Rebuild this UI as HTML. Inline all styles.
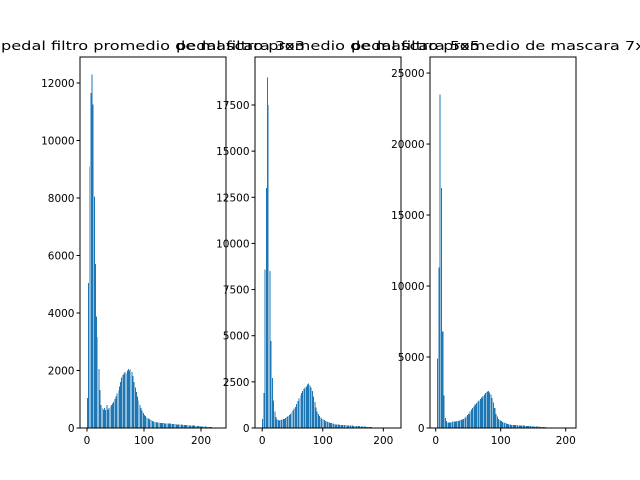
<!DOCTYPE html>
<html><head><meta charset="utf-8"><style>
body{margin:0;background:#fff}
svg{display:block;font-family:"DejaVu Sans","Liberation Sans",sans-serif}
</style></head><body>
<svg id="fig" width="640" height="480" viewBox="0 0 640 480" xmlns="http://www.w3.org/2000/svg"></svg>
<script>
const titles = ["pedal filtro promedio de mascara 3x3","pedal filtro promedio de mascara 5x5","pedal filtro promedio de mascara 7x7"];
const xTicks = [0,100,200];
const yTicksA = [0,2000,4000,6000,8000,10000,12000];
const yTicksB = [0,2500,5000,7500,10000,12500,15000,17500];
const yTicksC = [0,5000,10000,15000,20000,25000];
const seriesA = [1050,5040,9090,11650,12300,11250,8050,5700,3870,3170,2050,1320,800,
700,650,700,620,800,650,700,750,
800,850,900,1000,1100,1200,1300,1450,1600,1750,
1850,1900,1950,1900,2000,2050,2000,2050,1950,1800,
1600,1400,1250,1100,950,800,700,600,520,
460,410,370,340,310,290,270,250,230,215,
200,195,190,185,180,175,170,170,165,160,160,155,150,150,145,140,140,135,130,130,125,120,120,115,110,110,105,100,100,95,90,90,85,80,80,75,70,70,65,60,60,55,50,50,45,40,40,35,30,30,25];
const seriesB = [500,1900,8600,13000,19000,17500,8500,4700,2700,1500,900,600,450,
420,400,420,450,480,500,550,600,
650,700,750,850,950,1050,1150,1300,1450,1600,
1750,1900,2000,2100,2200,2250,2350,2400,2300,2200,
2000,1700,1400,1100,900,750,650,560,500,
460,420,380,350,320,300,280,260,240,220,
200,195,190,180,175,170,165,160,155,150,145,140,135,130,125,120,115,110,105,100,95,90,85,80,75,70,65,60,55,50,45,40,35,30,28,26,24,22,20,20,20];
const seriesC = [0,4900,11300,23500,16900,6800,2300,
700,500,400,380,400,420,450,
450,470,480,500,520,560,600,
650,700,800,900,1000,1150,1300,1400,1500,1650,
1750,1850,1950,2050,2150,2250,2350,2450,2550,2600,
2500,2350,2100,1800,1400,1000,800,
650,550,480,420,380,340,310,280,260,240,
220,215,210,200,195,190,180,175,170,165,160,150,145,140,130,125,120,110,105,100,95,90,80,75,70,60,55,50,45,40,35,30,25,20,20,20];
const datasets = [seriesA, seriesB, seriesC];
const yTickSets = [yTicksA, yTicksB, yTicksC];
const yMaxes = [12904, 20100, 26130];
const xMins = [-12.3, -11.9, -8.8];
const xMaxes = [243.9, 229.2, 215.8];
const binStep = 2;

const NS = "http://www.w3.org/2000/svg";
const svg = document.getElementById("fig");
function mk(tag, attrs, parent){const e=document.createElementNS(NS,tag);for(const k in attrs)e.setAttribute(k,attrs[k]);(parent||svg).appendChild(e);return e;}
const lefts=[80,255,430], W=146, axTop=57, axBottom=428;
for(let p=0;p<3;p++){
  const g=mk("g",{});
  
  
  const L=lefts[p];
  const xs=v=>L+(v-xMins[p])/(xMaxes[p]-xMins[p])*W;
  const ys=v=>axBottom-v/yMaxes[p]*(axBottom-axTop);
  const bars=mk("g",{fill:"#1f77b4","shape-rendering":"crispEdges"},g);
  
  
  datasets[p].forEach((v,i)=>{
    const x0=i*binStep, x1=x0+binStep*0.8;
    const r=mk("rect",{x:xs(x0),y:ys(v),width:xs(x1)-xs(x0),height:axBottom-ys(v)},bars);
    
    
  });
  const frame=mk("rect",{x:L,y:axTop,width:W,height:axBottom-axTop,fill:"none",stroke:"#000","stroke-width":1},g);
  
  
  xTicks.forEach(t=>{
    const x=xs(t);
    mk("line",{x1:x,x2:x,y1:axBottom,y2:axBottom+3.5,stroke:"#000"},g);
    const tx=mk("text",{x:x,y:axBottom+16,"font-size":"10.5","text-anchor":"middle"},g);
    tx.textContent=t;
    
    
  });
  yTickSets[p].forEach(t=>{
    const y=ys(t);
    mk("line",{x1:L,x2:L-3.5,y1:y,y2:y,stroke:"#000"},g);
    const tx=mk("text",{x:L-5.5,y:y+4,"font-size":"10.5","text-anchor":"end"},g);
    tx.textContent=t;
    
    
  });
  const ti=mk("text",{x:L+W/2,y:50,"font-size":"12","text-anchor":"middle",textLength:304,lengthAdjust:"spacingAndGlyphs"},g);
  ti.textContent=titles[p];
  
  
}
</script>
</body></html>
